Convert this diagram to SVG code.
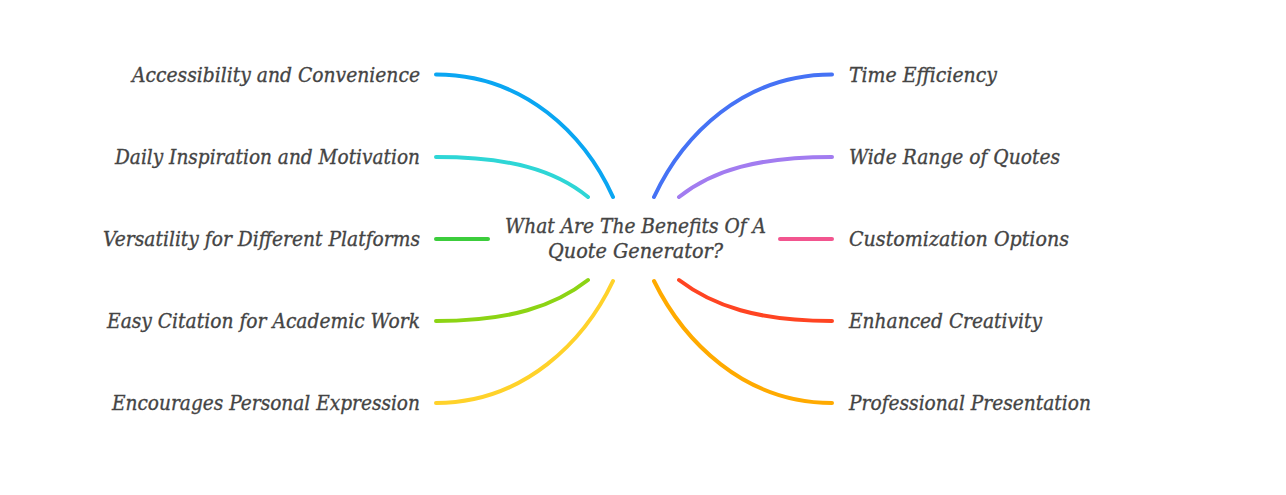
<svg xmlns="http://www.w3.org/2000/svg" width="1286" height="495" viewBox="0 0 1286 495">
<style>
text{font-family:"DejaVu Serif","Liberation Serif",serif;font-style:italic;font-size:20.5px;fill:#444444;stroke:#444444;stroke-width:0.35px}
.l{text-anchor:end}
.c{fill:none;stroke-width:4;stroke-linecap:round}
</style>
<rect width="1286" height="495" fill="#ffffff"/>
<g id="connectors">
<path class="c" stroke="#0aa6f2" d="M436,74.5 C525,74.5 585,135 613,197"/>
<path class="c" stroke="#2ed6d6" d="M436,157 C510,157 555,170 588,197"/>
<path class="c" stroke="#3ccd3c" d="M436,239 L488,239"/>
<path class="c" stroke="#8cd414" d="M436,321 C510,321 555,306 588,280"/>
<path class="c" stroke="#ffd22a" d="M436,403 C525,403 585,340 613,281"/>
<path class="c" stroke="#4572f5" d="M832,74.5 C743,74.5 683,135 654,197"/>
<path class="c" stroke="#a27cf0" d="M832,157 C758,157 713,170 679,197"/>
<path class="c" stroke="#f2558f" d="M780,239 L832,239"/>
<path class="c" stroke="#ff4422" d="M832,321 C758,321 713,306 679,280"/>
<path class="c" stroke="#ffaa00" d="M832,403 C743,403 683,340 654,281"/>
</g>
<g id="center">
<text x="635.5" y="233" text-anchor="middle" textLength="261" lengthAdjust="spacingAndGlyphs">What Are The Benefits Of A</text>
<text x="635.5" y="258" text-anchor="middle" textLength="175" lengthAdjust="spacingAndGlyphs">Quote Generator?</text>
</g>
<g id="n1"><text class="l" x="420" y="82" textLength="288" lengthAdjust="spacingAndGlyphs">Accessibility and Convenience</text></g>
<g id="n2"><text class="l" x="420" y="164" textLength="305" lengthAdjust="spacingAndGlyphs">Daily Inspiration and Motivation</text></g>
<g id="n3"><text class="l" x="420" y="246" textLength="317" lengthAdjust="spacingAndGlyphs">Versatility for Different Platforms</text></g>
<g id="n4"><text class="l" x="420" y="328" textLength="313" lengthAdjust="spacingAndGlyphs">Easy Citation for Academic Work</text></g>
<g id="n5"><text class="l" x="420" y="410" textLength="308" lengthAdjust="spacingAndGlyphs">Encourages Personal Expression</text></g>
<g id="n6"><text x="849" y="82" textLength="148" lengthAdjust="spacingAndGlyphs">Time Efficiency</text></g>
<g id="n7"><text x="849" y="164" textLength="211" lengthAdjust="spacingAndGlyphs">Wide Range of Quotes</text></g>
<g id="n8"><text x="849" y="246" textLength="220" lengthAdjust="spacingAndGlyphs">Customization Options</text></g>
<g id="n9"><text x="849" y="328" textLength="193" lengthAdjust="spacingAndGlyphs">Enhanced Creativity</text></g>
<g id="n10"><text x="849" y="410" textLength="242" lengthAdjust="spacingAndGlyphs">Professional Presentation</text></g>
</svg>
